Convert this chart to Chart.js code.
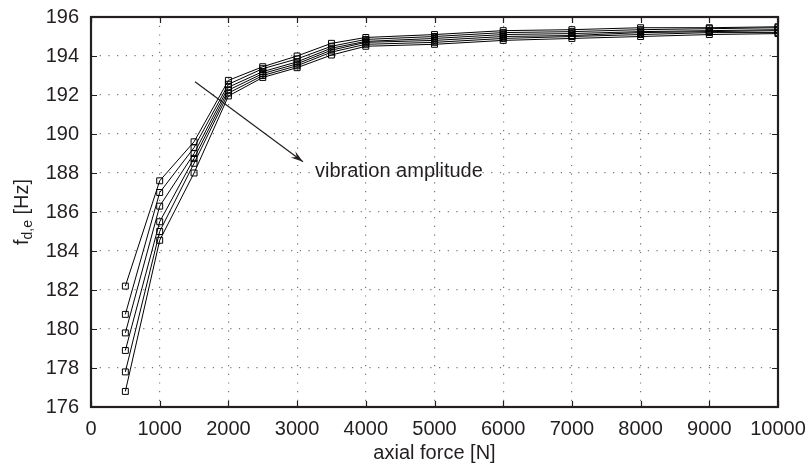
<!DOCTYPE html>
<html>
<head>
<meta charset="utf-8">
<script src="https://cdn.jsdelivr.net/npm/chart.js@4/dist/chart.umd.min.js"></script>
<style>
  html, body { margin: 0; padding: 0; background: #fff; }
  #wrap { width: 809px; height: 470px; }
</style>
</head>
<body>
<div id="wrap"><canvas id="chart" width="809" height="470"></canvas></div>
<script>
// axial force [N]
const forces = [500, 1000, 1500, 2000, 2500, 3000, 3500, 4000, 5000, 6000, 7000, 8000, 9000, 10000];

// f_d,e [Hz], one curve per vibration amplitude
const amp1 = [182.2, 187.6, 189.6, 192.75, 193.45, 194.0, 194.65, 194.95, 195.1, 195.3, 195.35, 195.45, 195.45, 195.5];
const amp2 = [180.75, 187.0, 189.3, 192.55, 193.35, 193.85, 194.5, 194.85, 195.0, 195.2, 195.25, 195.35, 195.4, 195.45];
const amp3 = [179.8, 186.3, 189.0, 192.4, 193.2, 193.7, 194.4, 194.75, 194.9, 195.1, 195.15, 195.25, 195.3, 195.35];
const amp4 = [178.9, 185.5, 188.75, 192.25, 193.1, 193.6, 194.3, 194.7, 194.8, 195.0, 195.05, 195.2, 195.25, 195.3];
const amp5 = [177.8, 185.0, 188.5, 192.1, 193.0, 193.5, 194.2, 194.6, 194.7, 194.9, 195.0, 195.1, 195.2, 195.2];
const amp6 = [176.8, 184.55, 188.0, 191.95, 192.9, 193.4, 194.05, 194.5, 194.6, 194.8, 194.9, 195.0, 195.1, 195.15];

const xTicks = [0, 1000, 2000, 3000, 4000, 5000, 6000, 7000, 8000, 9000, 10000];
const yTicks = [176, 178, 180, 182, 184, 186, 188, 190, 192, 194, 196];

// annotation arrow (data coords)
const arrowFrom = { x: 1514, y: 192.68 };
const arrowTo = { x: 3086, y: 188.58 };
const noteText = 'vibration amplitude';
const notePos = { x: 3260, y: 188.07 };

const ink = '#231f20';
const font = 'Liberation Sans, Arial, Helvetica, sans-serif';

const series = [amp1, amp2, amp3, amp4, amp5, amp6];

function makeSet(vals) {
  return {
    data: vals.map((v, i) => ({ x: forces[i], y: v })),
    borderColor: '#000',
    borderWidth: 1,
    backgroundColor: 'rgba(255,255,255,0)',
    pointStyle: 'rect',
    pointRadius: 4.2,
    pointBorderWidth: 1,
    pointBorderColor: '#000',
    pointBackgroundColor: 'rgba(255,255,255,0)',
    tension: 0
  };
}

const framePlugin = {
  id: 'frame',
  afterDatasetsDraw(chart) {
    const { ctx, chartArea: a, scales } = chart;
    ctx.save();
    // inward tick marks
    ctx.strokeStyle = ink;
    ctx.lineWidth = 1.2;
    ctx.beginPath();
    xTicks.forEach(t => {
      const px = Math.round(scales.x.getPixelForValue(t)) + 0.5;
      ctx.moveTo(px, a.bottom); ctx.lineTo(px, a.bottom - 6);
      ctx.moveTo(px, a.top); ctx.lineTo(px, a.top + 6);
    });
    yTicks.forEach(t => {
      const py = Math.round(scales.y.getPixelForValue(t)) + 0.5;
      ctx.moveTo(a.left, py); ctx.lineTo(a.left + 6, py);
      ctx.moveTo(a.right, py); ctx.lineTo(a.right - 6, py);
    });
    ctx.stroke();
    // box
    ctx.lineWidth = 2.2;
    ctx.strokeRect(a.left, a.top, a.right - a.left, a.bottom - a.top);

    // arrow
    const x0 = scales.x.getPixelForValue(arrowFrom.x), y0 = scales.y.getPixelForValue(arrowFrom.y);
    const x1 = scales.x.getPixelForValue(arrowTo.x), y1 = scales.y.getPixelForValue(arrowTo.y);
    ctx.strokeStyle = ink;
    ctx.fillStyle = ink;
    ctx.lineWidth = 1.2;
    ctx.beginPath();
    ctx.moveTo(x0, y0);
    ctx.lineTo(x1, y1);
    ctx.stroke();
    const ang = Math.atan2(y1 - y0, x1 - x0);
    const len = 13, half = 0.3;
    ctx.beginPath();
    ctx.moveTo(x1, y1);
    ctx.lineTo(x1 - len * Math.cos(ang - half), y1 - len * Math.sin(ang - half));
    ctx.lineTo(x1 - len * 0.6 * Math.cos(ang), y1 - len * 0.6 * Math.sin(ang));
    ctx.lineTo(x1 - len * Math.cos(ang + half), y1 - len * Math.sin(ang + half));
    ctx.closePath();
    ctx.fill();

    // note
    ctx.font = '20px ' + font;
    ctx.textAlign = 'left';
    ctx.textBaseline = 'middle';
    ctx.fillText(noteText, scales.x.getPixelForValue(notePos.x), scales.y.getPixelForValue(notePos.y));

    // y title with subscript
    ctx.translate(22, (a.top + a.bottom) / 2);
    ctx.rotate(-Math.PI / 2);
    ctx.textBaseline = 'middle';
    ctx.font = '20px ' + font;
    const wF = ctx.measureText('f').width;
    const wTail = ctx.measureText(' [Hz]').width;
    ctx.font = '14px ' + font;
    const wSub = ctx.measureText('d,e').width;
    let x = -(wF + wSub + wTail) / 2;
    ctx.font = '20px ' + font;
    ctx.fillText('f', x, 0);
    x += wF;
    ctx.font = '14px ' + font;
    ctx.fillText('d,e', x, 6);
    x += wSub;
    ctx.font = '20px ' + font;
    ctx.fillText(' [Hz]', x, 0);
    ctx.restore();
  }
};

new Chart(document.getElementById('chart'), {
  type: 'line',
  data: { datasets: series.map(makeSet) },
  options: {
    responsive: false,
    animation: false,
    layout: { padding: { top: 17, right: 31, left: 0, bottom: 0 } },
    plugins: { legend: { display: false }, tooltip: { enabled: false } },
    scales: {
      x: {
        type: 'linear',
        min: 0, max: 10000,
        afterFit(s) { s.height = 63; s.paddingLeft = 0; s.paddingRight = 0; },
        afterBuildTicks(s) { s.ticks = xTicks.map(v => ({ value: v })); },
        ticks: { color: ink, font: { family: font, size: 20 }, padding: 10, maxRotation: 0, autoSkip: false, callback: v => String(v) },
        grid: { color: '#777', lineWidth: 1.2, drawTicks: false, tickLength: 0 },
        border: { display: false, dash: [1.2, 7.5] },
        title: { display: true, text: 'axial force [N]', color: ink, font: { family: font, size: 20 }, padding: { top: 0, bottom: 5 } }
      },
      y: {
        type: 'linear',
        min: 176, max: 196,
        afterFit(s) { s.width = 91; s.paddingTop = 0; s.paddingBottom = 0; },
        afterBuildTicks(s) { s.ticks = yTicks.map(v => ({ value: v })); },
        ticks: { color: ink, font: { family: font, size: 20 }, padding: 12, callback: v => String(v) },
        grid: { color: '#777', lineWidth: 1.2, drawTicks: false, tickLength: 0 },
        border: { display: false, dash: [1.2, 7.5] }
      }
    }
  },
  plugins: [framePlugin]
});
</script>
</body>
</html>
